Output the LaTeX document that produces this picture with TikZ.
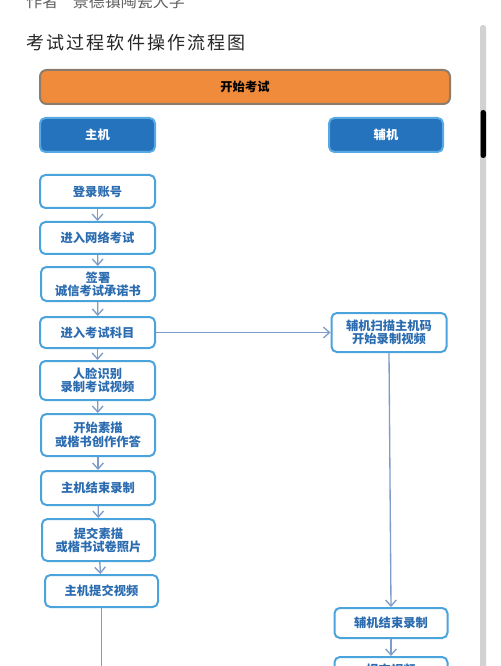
\documentclass[tikz,border=0pt]{standalone}
\usepackage{fontspec}
\newfontfamily\cjk{Noto Sans CJK SC}
\newfontfamily\cjkt[LetterSpace=12]{Noto Sans CJK SC}
\usetikzlibrary{arrows.meta}
\definecolor{orangefill}{HTML}{F08B3B}
\definecolor{orangeedge}{HTML}{8C7C6C}
\definecolor{hostfill}{HTML}{2673BD}
\definecolor{hostedge}{HTML}{56A9E3}
\definecolor{boxedge}{HTML}{4BA3DC}
\definecolor{boxtext}{HTML}{2B6CB0}
\definecolor{arrowc}{HTML}{7F9CC8}
\definecolor{scrollc}{HTML}{D2D2D2}
\tikzset{
  bw/.style={minimum width=#1*0.75pt},
  bh/.style={minimum height=#1*0.75pt},
  bx/.style={draw=boxedge, fill=white, line width=1.5pt, rounded corners=4pt,
    inner sep=0pt, align=center, text=boxtext,
    font=\cjk\bfseries\fontsize{9.2}{10}\selectfont},
  hostbox/.style={draw=hostedge, fill=hostfill, line width=1.5pt, rounded corners=4pt,
    inner sep=0pt, text=white, font=\cjk\bfseries\fontsize{9.2}{10}\selectfont},
  startbox/.style={draw=orangeedge, fill=orangefill, line width=1.5pt, rounded corners=5pt,
    inner sep=0pt, text=black, font=\cjk\bfseries\fontsize{9.2}{10}\selectfont},
  arr/.style={draw=arrowc, line width=1pt, -{Straight Barb[length=4.5pt,width=8pt]}},
  ln/.style={draw=arrowc, line width=1pt}
}
\begin{document}
\begin{tikzpicture}[x=0.75pt,y=-0.75pt]
\useasboundingbox (0,0) rectangle (500,666);
\clip (0,0) rectangle (500,666);
\fill[white] (0,0) rectangle (500,666);

% header texts
\node[anchor=west, inner sep=0pt, text=black!62, font=\cjk\fontsize{12}{14}\selectfont] (author) at (26,1) {作者\hspace{11pt}景德镇陶瓷大学};
\node[anchor=west, inner sep=0pt, text=black!85, font=\cjkt\fontsize{13.5}{16}\selectfont] (title) at (26,43) {考试过程软件操作流程图};

% scrollbar
\fill[scrollc, rounded corners=2pt] (480,25) rectangle (486,680);
\fill[black, rounded corners=2pt] (480.5,110) rectangle (486,158);

% top boxes
\node[startbox, bw=410, bh=34] (start) at (245,87) {开始考试};
\node[hostbox, bw=115, bh=34] (host) at (97.5,135) {主机};
\node[hostbox, bw=114, bh=34] (aux) at (386,135) {辅机};

% host column
\node[bx, bw=115, bh=33] (b1) at (97.5,191.5) {登录账号};
\node[bx, bw=115, bh=32] (b2) at (97.5,238) {进入网络考试};
\node[bx, bw=114, bh=34] (b3) at (98,284) {签署\\诚信考试承诺书};
\node[bx, bw=115, bh=31] (b4) at (97.5,332.5) {进入考试科目};
\node[bx, bw=115, bh=39] (b5) at (97.5,380.5) {人脸识别\\录制考试视频};
\node[bx, bw=114, bh=42] (b6) at (98,435) {开始素描\\或楷书创作作答};
\node[bx, bw=114, bh=34] (b7) at (98,488) {主机结束录制};
\node[bx, bw=113, bh=42] (b8) at (98.5,540) {提交素描\\或楷书试卷照片};
\node[bx, bw=113, bh=32] (b9) at (101.5,591) {主机提交视频};
\coordinate (b9end) at (101.5,680);

% aux column
\node[bx, bw=115, bh=39] (r1) at (389,332.5) {辅机扫描主机码\\开始录制视频};
\node[bx, bw=113, bh=30] (r2) at (391,623) {辅机结束录制};
\node[bx, bw=113, bh=26] (r3) at (391,670) {提交视频};

% connectors
\draw[arr] (b1) -- (b2);
\draw[arr] (b2) -- (b3);
\draw[arr] (b3) -- (b4);
\draw[arr] (b4) -- (b5);
\draw[arr] (b5) -- (b6);
\draw[arr] (b6) -- (b7);
\draw[arr] (b7) -- (b8);
\draw[arr] (b8) -- (b9);
\draw[ln] (b9.south) -- (b9end);
\draw[arr] (b4.east) -- (r1.west);
\draw[arr] (r1.south) -- (r2.north);
\draw[arr] (r2) -- (r3);
\end{tikzpicture}
\end{document}
